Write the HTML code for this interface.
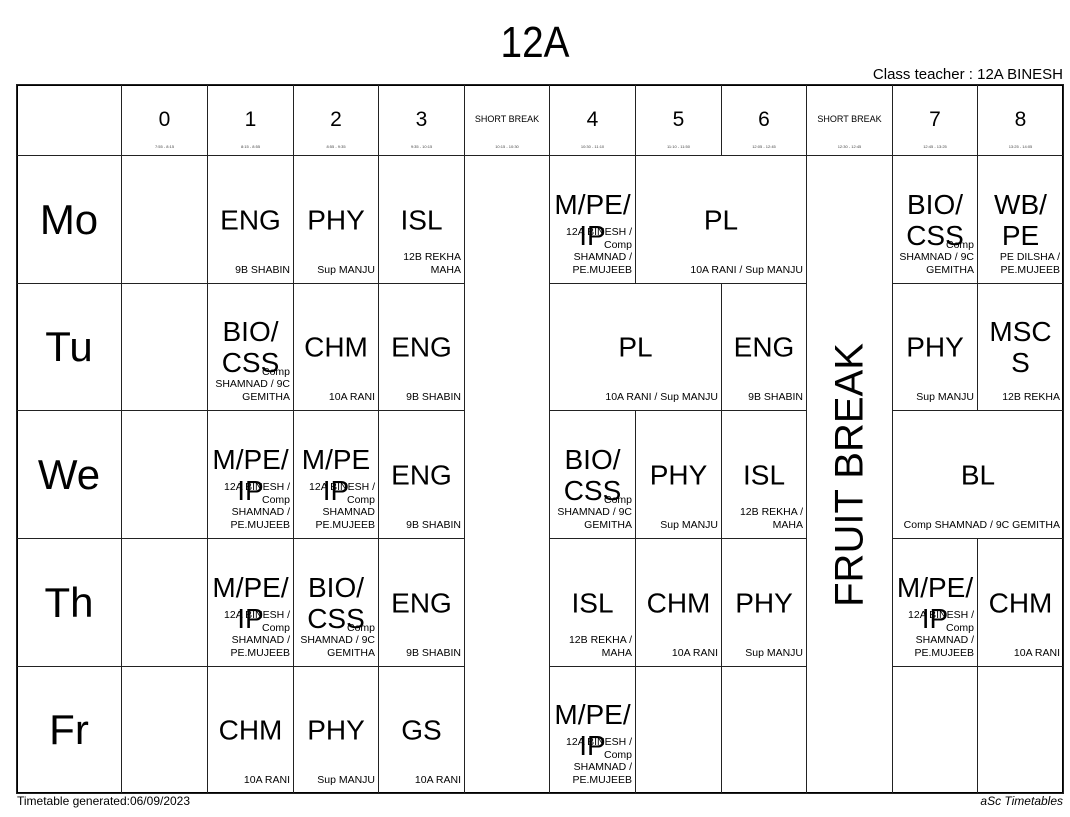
<!DOCTYPE html>
<html><head><meta charset="utf-8"><style>
body{margin:0;width:1070px;height:817px;background:#fff;position:relative;font-family:"Liberation Sans",sans-serif;color:#000;overflow:hidden}
.c{position:absolute;border:1px solid #222;box-sizing:border-box}
.s{position:absolute;left:0;right:0;top:50%;transform:translateY(-50%);text-align:center;font-size:28px;line-height:31px}
.t{position:absolute;right:3px;bottom:7px;left:-20px;text-align:right;font-size:10.5px;line-height:12.5px}
.h{position:absolute;left:0;right:0;top:23px;text-align:center;font-size:21px}
.tm{position:absolute;left:0;right:0;top:59px;text-align:center;font-size:4px;color:#444}
.sb{position:absolute;left:0;right:0;top:29px;text-align:center;font-size:9px}
.d{position:absolute;left:0;right:0;top:50%;transform:translateY(-50%);text-align:center;font-size:42px}
</style></head><body>
<div style="position:absolute;left:0;right:0;top:18px;text-align:center;font-size:44px;transform:scaleX(0.88)">12A</div>
<div style="position:absolute;right:7px;top:66px;font-size:15px">Class teacher : 12A BINESH</div>
<div style="position:absolute;left:16px;top:84px;width:1048px;height:710px;border:2px solid #000;box-sizing:border-box"></div>

<!-- header -->
<div class="c" style="left:16px;top:84px;width:106px;height:72px"></div>
<div class="c" style="left:121px;top:84px;width:87px;height:72px"><div class="h">0</div><div class="tm">7:55 - 8:15</div></div>
<div class="c" style="left:207px;top:84px;width:87px;height:72px"><div class="h">1</div><div class="tm">8:15 - 8:55</div></div>
<div class="c" style="left:293px;top:84px;width:86px;height:72px"><div class="h">2</div><div class="tm">8:55 - 9:35</div></div>
<div class="c" style="left:378px;top:84px;width:87px;height:72px"><div class="h">3</div><div class="tm">9:35 - 10:15</div></div>
<div class="c" style="left:464px;top:84px;width:86px;height:72px"><div class="sb">SHORT BREAK</div><div class="tm">10:15 - 10:30</div></div>
<div class="c" style="left:549px;top:84px;width:87px;height:72px"><div class="h">4</div><div class="tm">10:30 - 11:10</div></div>
<div class="c" style="left:635px;top:84px;width:87px;height:72px"><div class="h">5</div><div class="tm">11:10 - 11:50</div></div>
<div class="c" style="left:721px;top:84px;width:86px;height:72px"><div class="h">6</div><div class="tm">12:05 - 12:45</div></div>
<div class="c" style="left:806px;top:84px;width:87px;height:72px"><div class="sb">SHORT BREAK</div><div class="tm">12:30 - 12:45</div></div>
<div class="c" style="left:892px;top:84px;width:86px;height:72px"><div class="h">7</div><div class="tm">12:45 - 13:25</div></div>
<div class="c" style="left:977px;top:84px;width:87px;height:72px"><div class="h">8</div><div class="tm">13:25 - 14:05</div></div>

<!-- merged columns -->
<div class="c" style="left:464px;top:155px;width:86px;height:639px"></div>
<div class="c" style="left:806px;top:155px;width:87px;height:639px"><div style="position:absolute;left:50%;top:50%;transform:translate(-50%,-50%) rotate(-90deg);font-size:40px;white-space:nowrap">FRUIT BREAK</div></div>

<!-- Mo -->
<div class="c" style="left:16px;top:155px;width:106px;height:129px"><div class="d">Mo</div></div>
<div class="c" style="left:121px;top:155px;width:87px;height:129px"></div>
<div class="c" style="left:207px;top:155px;width:87px;height:129px"><div class="s">ENG</div><div class="t">9B SHABIN</div></div>
<div class="c" style="left:293px;top:155px;width:86px;height:129px"><div class="s">PHY</div><div class="t">Sup MANJU</div></div>
<div class="c" style="left:378px;top:155px;width:87px;height:129px"><div class="s">ISL</div><div class="t">12B REKHA<br>MAHA</div></div>
<div class="c" style="left:549px;top:155px;width:87px;height:129px"><div class="s">M/PE/<br>IP</div><div class="t">12A BINESH /<br>Comp<br>SHAMNAD /<br>PE.MUJEEB</div></div>
<div class="c" style="left:635px;top:155px;width:172px;height:129px"><div class="s">PL</div><div class="t">10A RANI / Sup MANJU</div></div>
<div class="c" style="left:892px;top:155px;width:86px;height:129px"><div class="s">BIO/<br>CSS</div><div class="t">Comp<br>SHAMNAD / 9C<br>GEMITHA</div></div>
<div class="c" style="left:977px;top:155px;width:87px;height:129px"><div class="s">WB/<br>PE</div><div class="t">PE DILSHA /<br>PE.MUJEEB</div></div>

<!-- Tu -->
<div class="c" style="left:16px;top:283px;width:106px;height:128px"><div class="d">Tu</div></div>
<div class="c" style="left:121px;top:283px;width:87px;height:128px"></div>
<div class="c" style="left:207px;top:283px;width:87px;height:128px"><div class="s">BIO/<br>CSS</div><div class="t">Comp<br>SHAMNAD / 9C<br>GEMITHA</div></div>
<div class="c" style="left:293px;top:283px;width:86px;height:128px"><div class="s">CHM</div><div class="t">10A RANI</div></div>
<div class="c" style="left:378px;top:283px;width:87px;height:128px"><div class="s">ENG</div><div class="t">9B SHABIN</div></div>
<div class="c" style="left:549px;top:283px;width:173px;height:128px"><div class="s">PL</div><div class="t">10A RANI / Sup MANJU</div></div>
<div class="c" style="left:721px;top:283px;width:86px;height:128px"><div class="s">ENG</div><div class="t">9B SHABIN</div></div>
<div class="c" style="left:892px;top:283px;width:86px;height:128px"><div class="s">PHY</div><div class="t">Sup MANJU</div></div>
<div class="c" style="left:977px;top:283px;width:87px;height:128px"><div class="s">MSC<br>S</div><div class="t">12B REKHA</div></div>

<!-- We -->
<div class="c" style="left:16px;top:410px;width:106px;height:129px"><div class="d">We</div></div>
<div class="c" style="left:121px;top:410px;width:87px;height:129px"></div>
<div class="c" style="left:207px;top:410px;width:87px;height:129px"><div class="s">M/PE/<br>IP</div><div class="t">12A BINESH /<br>Comp<br>SHAMNAD /<br>PE.MUJEEB</div></div>
<div class="c" style="left:293px;top:410px;width:86px;height:129px"><div class="s">M/PE<br>IP</div><div class="t">12A BINESH /<br>Comp<br>SHAMNAD<br>PE.MUJEEB</div></div>
<div class="c" style="left:378px;top:410px;width:87px;height:129px"><div class="s">ENG</div><div class="t">9B SHABIN</div></div>
<div class="c" style="left:549px;top:410px;width:87px;height:129px"><div class="s">BIO/<br>CSS</div><div class="t">Comp<br>SHAMNAD / 9C<br>GEMITHA</div></div>
<div class="c" style="left:635px;top:410px;width:87px;height:129px"><div class="s">PHY</div><div class="t">Sup MANJU</div></div>
<div class="c" style="left:721px;top:410px;width:86px;height:129px"><div class="s">ISL</div><div class="t">12B REKHA /<br>MAHA</div></div>
<div class="c" style="left:892px;top:410px;width:172px;height:129px"><div class="s">BL</div><div class="t">Comp SHAMNAD / 9C GEMITHA</div></div>

<!-- Th -->
<div class="c" style="left:16px;top:538px;width:106px;height:129px"><div class="d">Th</div></div>
<div class="c" style="left:121px;top:538px;width:87px;height:129px"></div>
<div class="c" style="left:207px;top:538px;width:87px;height:129px"><div class="s">M/PE/<br>IP</div><div class="t">12A BINESH /<br>Comp<br>SHAMNAD /<br>PE.MUJEEB</div></div>
<div class="c" style="left:293px;top:538px;width:86px;height:129px"><div class="s">BIO/<br>CSS</div><div class="t">Comp<br>SHAMNAD / 9C<br>GEMITHA</div></div>
<div class="c" style="left:378px;top:538px;width:87px;height:129px"><div class="s">ENG</div><div class="t">9B SHABIN</div></div>
<div class="c" style="left:549px;top:538px;width:87px;height:129px"><div class="s">ISL</div><div class="t">12B REKHA /<br>MAHA</div></div>
<div class="c" style="left:635px;top:538px;width:87px;height:129px"><div class="s">CHM</div><div class="t">10A RANI</div></div>
<div class="c" style="left:721px;top:538px;width:86px;height:129px"><div class="s">PHY</div><div class="t">Sup MANJU</div></div>
<div class="c" style="left:892px;top:538px;width:86px;height:129px"><div class="s">M/PE/<br>IP</div><div class="t">12A BINESH /<br>Comp<br>SHAMNAD /<br>PE.MUJEEB</div></div>
<div class="c" style="left:977px;top:538px;width:87px;height:129px"><div class="s">CHM</div><div class="t">10A RANI</div></div>

<!-- Fr -->
<div class="c" style="left:16px;top:666px;width:106px;height:128px"><div class="d">Fr</div></div>
<div class="c" style="left:121px;top:666px;width:87px;height:128px"></div>
<div class="c" style="left:207px;top:666px;width:87px;height:128px"><div class="s">CHM</div><div class="t">10A RANI</div></div>
<div class="c" style="left:293px;top:666px;width:86px;height:128px"><div class="s">PHY</div><div class="t">Sup MANJU</div></div>
<div class="c" style="left:378px;top:666px;width:87px;height:128px"><div class="s">GS</div><div class="t">10A RANI</div></div>
<div class="c" style="left:549px;top:666px;width:87px;height:128px"><div class="s">M/PE/<br>IP</div><div class="t">12A BINESH /<br>Comp<br>SHAMNAD /<br>PE.MUJEEB</div></div>
<div class="c" style="left:635px;top:666px;width:87px;height:128px"></div>
<div class="c" style="left:721px;top:666px;width:86px;height:128px"></div>
<div class="c" style="left:892px;top:666px;width:86px;height:128px"></div>
<div class="c" style="left:977px;top:666px;width:87px;height:128px"></div>

<div style="position:absolute;left:17px;top:794px;font-size:12px">Timetable generated:06/09/2023</div>
<div style="position:absolute;right:7px;top:794px;font-size:12px;font-style:italic">aSc Timetables</div>
</body></html>
